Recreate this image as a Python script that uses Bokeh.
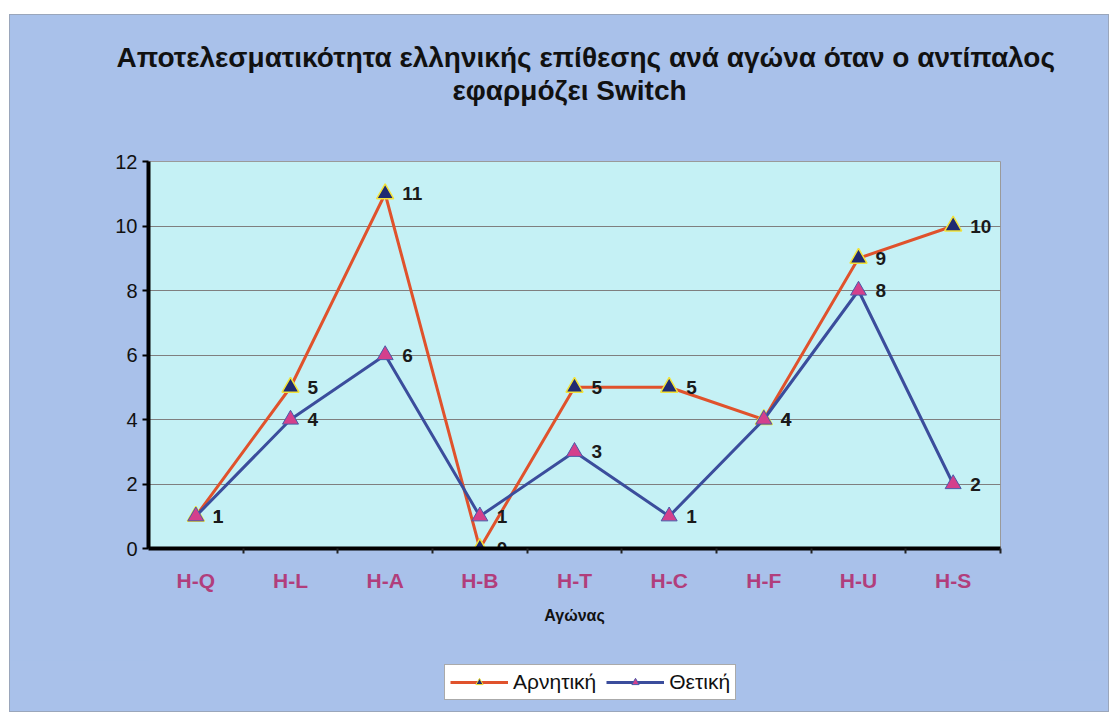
from bokeh.plotting import figure
from bokeh.layouts import column
from bokeh.models import (ColumnDataSource, Range1d, FixedTicker, Legend, LegendItem, Title)
from bokeh.embed import file_html
from bokeh.resources import INLINE
from bokeh.core.properties import value

# ---- data ----
categories = ["H-Q", "H-L", "H-A", "H-B", "H-T", "H-C", "H-F", "H-U", "H-S"]
arnitiki = [1, 5, 11, 0, 5, 5, 4, 9, 10]
thetiki = [1, 4, 6, 1, 3, 1, 4, 8, 2]
y_ticks = [0, 2, 4, 6, 8, 10, 12]
title_line1 = "Αποτελεσματικότητα ελληνικής επίθεσης ανά αγώνα όταν ο αντίπαλος"
title_line2 = "εφαρμόζει Switch"
x_title = "Αγώνας"
series_names = ["Αρνητική", "Θετική"]

FONT = "Liberation Sans"
OUTER_BG = "#a9c1ea"
PLOT_BG = "#c5f1f5"
RED = "#e0522c"
BLUE = "#3b4d9c"
NAVY = "#1f2a72"
PINK = "#d4408c"
W = 1098

# ---- main chart ----
xs = [i + 0.5 for i in range(len(categories))]
src_a = ColumnDataSource(dict(x=xs, y=arnitiki, t=[str(v) for v in arnitiki]))
src_t = ColumnDataSource(dict(x=xs, y=thetiki, t=[str(v) for v in thetiki]))

p = figure(width=W, height=645, output_backend="svg", toolbar_location=None,
           title=None,
           x_range=Range1d(0, len(categories)), y_range=Range1d(0, 12),
           min_border_left=138, min_border_right=108, min_border_top=146,
           min_border_bottom=112)
p.border_fill_color = OUTER_BG
p.background_fill_color = PLOT_BG
p.outline_line_color = "#9a9a9a"
p.outline_line_width = 1

p.xgrid.grid_line_color = None
p.ygrid.grid_line_color = "#7f7f7f"
p.ygrid.grid_line_width = 1
p.ygrid.ticker = FixedTicker(ticks=y_ticks)

p.yaxis.ticker = FixedTicker(ticks=y_ticks)
p.yaxis.axis_line_color = "black"
p.yaxis.axis_line_width = 4
p.yaxis.major_tick_line_color = "black"
p.yaxis.major_tick_line_width = 2
p.yaxis.major_tick_out = 6
p.yaxis.major_tick_in = 0
p.yaxis.minor_tick_line_color = None
p.yaxis.major_label_text_font = FONT
p.yaxis.major_label_text_font_size = "20px"
p.yaxis.major_label_text_color = "#111111"
p.yaxis.major_label_standoff = 5

p.xaxis.ticker = FixedTicker(ticks=xs, minor_ticks=list(range(1, len(categories) + 1)))
p.xaxis.major_label_overrides = {x: c for x, c in zip(xs, categories)}
p.xaxis.axis_line_color = "black"
p.xaxis.axis_line_width = 4
p.xaxis.major_tick_line_color = None
p.xaxis.minor_tick_line_color = "#222222"
p.xaxis.minor_tick_line_width = 2
p.xaxis.minor_tick_out = 5
p.xaxis.minor_tick_in = 0
p.xaxis.major_label_text_font = FONT
p.xaxis.major_label_text_font_size = "21px"
p.xaxis.major_label_text_font_style = "bold"
p.xaxis.major_label_text_color = "#b13e7c"
p.xaxis.major_label_standoff = 14
p.xaxis.axis_label = x_title
p.xaxis.axis_label_text_font = FONT
p.xaxis.axis_label_text_font_size = "16px"
p.xaxis.axis_label_text_font_style = "bold"
p.xaxis.axis_label_text_color = "#111111"
p.xaxis.axis_label_standoff = 12

la = p.line("x", "y", source=src_a, line_color=RED, line_width=3)
ma = p.scatter("x", "y", source=src_a, marker="triangle", size=17,
               fill_color=NAVY, line_color="#f2e23a", line_width=1.5)
lt = p.line("x", "y", source=src_t, line_color=BLUE, line_width=3)
mt = p.scatter("x", "y", source=src_t, marker="triangle", size=16,
               fill_color=PINK, line_color="#4a5aa8", line_width=1)

for src in (src_a, src_t):
    p.text("x", "y", text="t", source=src, x_offset=17, y_offset=0,
           text_font=value(FONT), text_font_size="19px", text_font_style="bold",
           text_color="#1a1a1a", text_baseline="middle", text_align="left")

# ---- title: spacer next to the frame, then line 2, then line 1 ----
p.add_layout(Title(text=" ", text_font=FONT, text_font_size="10px", standoff=43), "above")
p.add_layout(Title(text=title_line2, align="left", offset=304, standoff=0,
                   text_font=FONT, text_font_size="28px", text_font_style="bold",
                   text_color="#111111"), "above")
p.add_layout(Title(text=title_line1, align="left", offset=-32, standoff=0,
                   text_font=FONT, text_font_size="28px", text_font_style="bold",
                   text_color="#111111"), "above")

# ---- legend block (frame aligned with the chart's frame) ----
pl = figure(width=W, height=51, output_backend="svg", toolbar_location=None,
            title=None, x_axis_location=None, y_axis_location=None,
            x_range=Range1d(0, 1), y_range=Range1d(0, 1),
            min_border_left=138, min_border_right=108, min_border_top=0,
            min_border_bottom=0)
pl.border_fill_color = OUTER_BG
pl.background_fill_color = OUTER_BG
pl.outline_line_color = None
pl.grid.visible = False
off = [-10]
ra_l = pl.line(x=off, y=off, line_color=RED, line_width=3)
ra_m = pl.scatter(x=off, y=off, marker="triangle", size=10,
                  fill_color=NAVY, line_color="#f2e23a", line_width=1)
rt_l = pl.line(x=off, y=off, line_color=BLUE, line_width=3)
rt_m = pl.scatter(x=off, y=off, marker="triangle", size=10,
                  fill_color=PINK, line_color="#4a5aa8", line_width=1)
legend = Legend(items=[LegendItem(label=series_names[0], renderers=[ra_l, ra_m]),
                       LegendItem(label=series_names[1], renderers=[rt_l, rt_m])],
                orientation="horizontal", location=(296, 11))
legend.background_fill_color = "white"
legend.background_fill_alpha = 1
legend.border_line_color = "#555555"
legend.border_line_width = 1.5
legend.label_text_font = FONT
legend.label_text_font_size = "21px"
legend.label_text_color = "#111111"
legend.glyph_width = 58
legend.glyph_height = 18
legend.label_standoff = 5
legend.spacing = 10
legend.padding = 5
legend.margin = 0
pl.add_layout(legend, "center")

layout = column(p, pl, spacing=0, margin=(15, 0, 0, 10),
                styles={"background-color": OUTER_BG, "outline": "1px solid #9aa6bb"})
open("out.html", "w").write(file_html(layout, INLINE))
